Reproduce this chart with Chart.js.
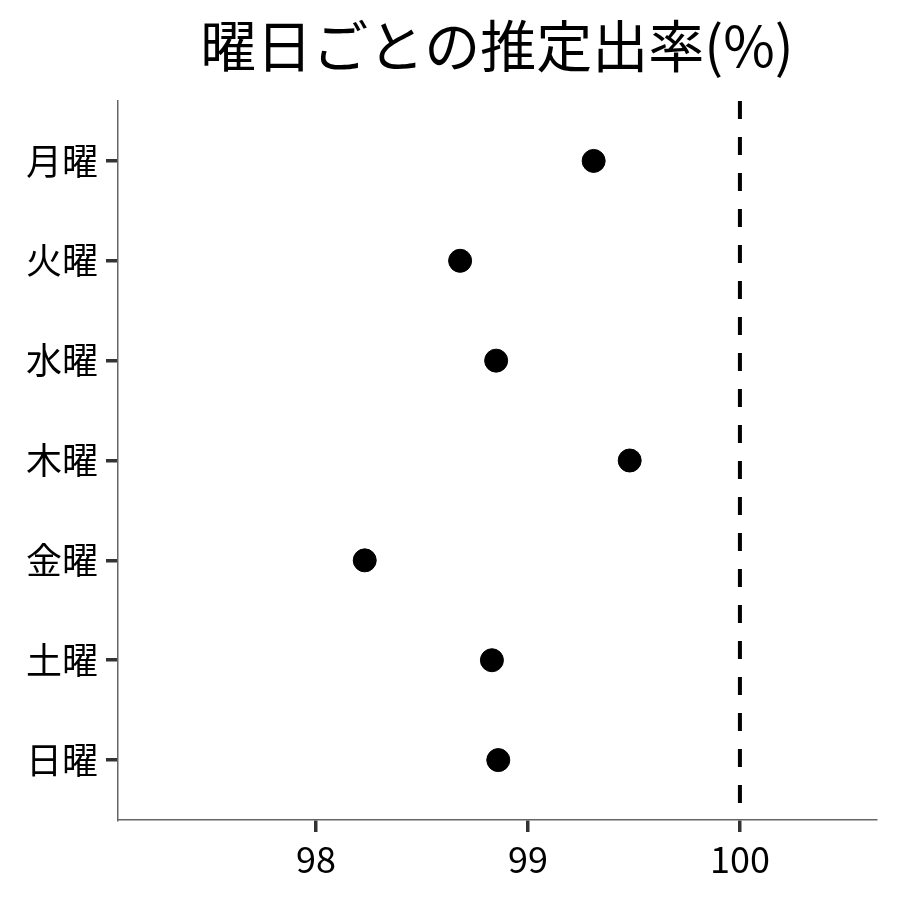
<!DOCTYPE html>
<html>
<head>
<meta charset="utf-8">
<script src="https://cdn.jsdelivr.net/npm/chart.js@4/dist/chart.umd.min.js"></script>
<style>
  html, body { margin: 0; padding: 0; background: #fff; }
  #wrap { width: 900px; height: 900px; }
</style>
</head>
<body>
<div id="wrap"><canvas id="rateChart" width="900" height="900"></canvas></div>
<script>
// Data
const titleText = '曜日ごとの推定出率(%)';
const days = ['月曜', '火曜', '水曜', '木曜', '金曜', '土曜', '日曜'];
const rates = [99.31, 98.68, 98.85, 99.48, 98.23, 98.83, 98.86];
const xTicks = [98, 99, 100];
const refValue = 100;

const font = '"Noto Sans CJK JP", "Noto Sans", sans-serif';

// Title drawn centred over the plot area (like ggplot)
const titlePlugin = {
    id: 'panelTitle',
    afterDraw(chart) {
        const { ctx, chartArea } = chart;
        ctx.save();
        ctx.fillStyle = '#000';
        ctx.font = '56px ' + font;
        ctx.textAlign = 'center';
        ctx.textBaseline = 'middle';
        ctx.fillText(titleText, (chartArea.left + chartArea.right) / 2, 46);
        ctx.restore();
    }
};

const ctx = document.getElementById('rateChart').getContext('2d');
const chart = new Chart(ctx, {
    type: 'scatter',
    data: {
        datasets: [
            {
                label: '推定出率',
                data: days.map((d, i) => ({ x: rates[i], y: i })),
                backgroundColor: '#000',
                borderColor: '#000',
                pointRadius: 11.5,
                pointHoverRadius: 11.5
            },
            {
                type: 'line',
                label: '100%',
                data: [{ x: refValue, y: -0.6 }, { x: refValue, y: days.length - 0.4 }],
                borderColor: '#000',
                borderWidth: 4,
                borderDash: [18, 18],
                pointRadius: 0,
                fill: false
            }
        ]
    },
    options: {
        responsive: false,
        animation: false,
        layout: { padding: { top: 101, right: 24, left: 0, bottom: 0 } },
        plugins: {
            legend: { display: false },
            tooltip: { enabled: false },
            title: { display: false }
        },
        scales: {
            x: {
                type: 'linear',
                min: 97.066,
                max: 100.642,
                afterBuildTicks: scale => { scale.ticks = xTicks.map(v => ({ value: v })); },
                afterFit: scale => { scale.height = 80; },
                grid: { drawOnChartArea: false, drawTicks: true, lineWidth: 3.5, tickLength: 12, tickWidth: 3.5, tickColor: '#333' },
                border: { display: true, color: '#666', width: 1.5 },
                ticks: { color: '#000', padding: 6, font: { family: font, size: 36 } }
            },
            y: {
                type: 'linear',
                reverse: true,
                min: -0.6,
                max: days.length - 0.4,
                afterBuildTicks: scale => { scale.ticks = days.map((d, i) => ({ value: i })); },
                afterFit: scale => { scale.width = 118; },
                grid: { drawOnChartArea: false, drawTicks: true, lineWidth: 3.5, tickLength: 12, tickWidth: 3.5, tickColor: '#333' },
                border: { display: true, color: '#666', width: 1.5 },
                ticks: {
                    color: '#000',
                    padding: 8,
                    font: { family: font, size: 36 },
                    callback: v => days[v]
                }
            }
        }
    },
    plugins: [titlePlugin]
});
</script>
</body>
</html>
